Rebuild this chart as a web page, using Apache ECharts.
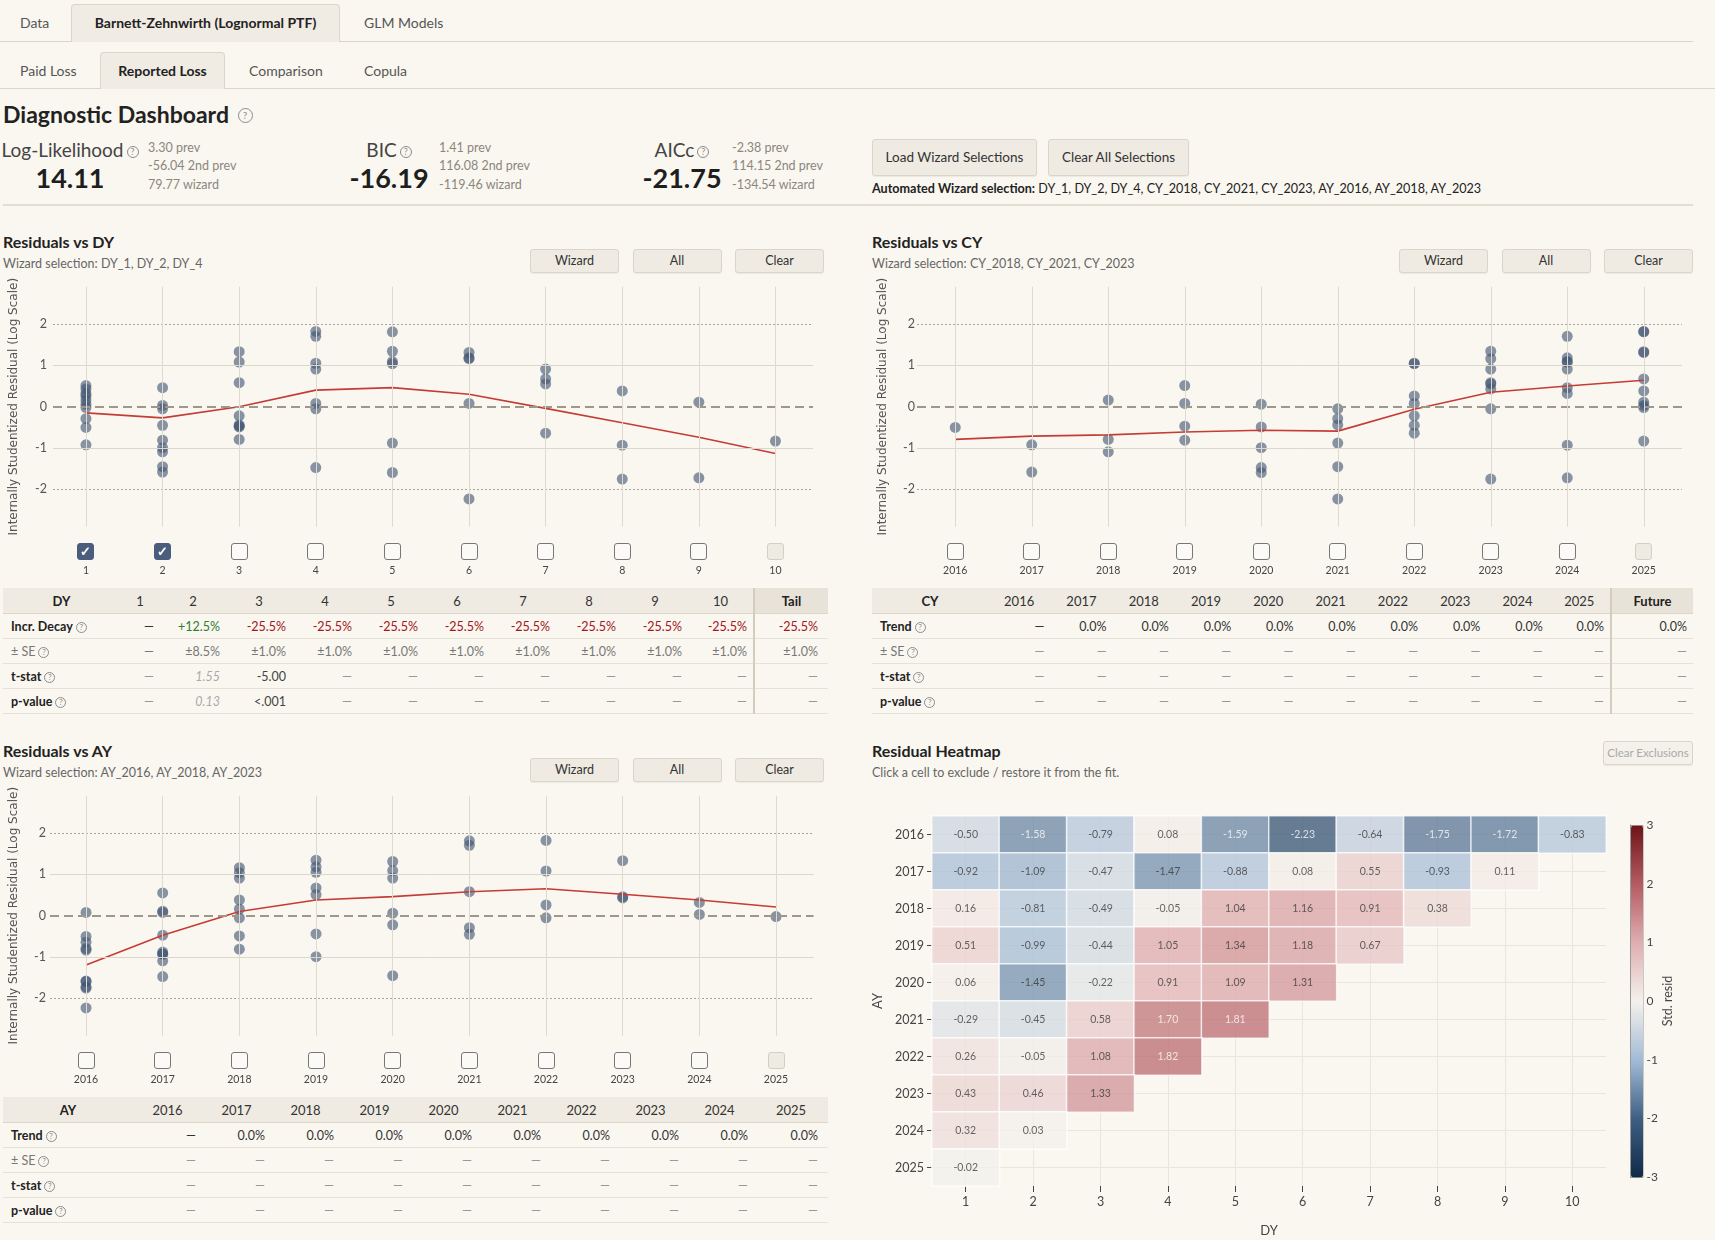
<!DOCTYPE html>
<html>
<head>
<meta charset="utf-8">
<script src="https://cdn.jsdelivr.net/npm/echarts@6/dist/echarts.min.js"></script>
<style>
  html,body{margin:0;padding:0;background:#faf7f0;}
  body{width:1715px;height:1240px;position:relative;overflow:hidden;font-family:Lato,"Noto Sans",sans-serif;color:#2a2a2a;}
  .a{position:absolute;white-space:nowrap;}
  .tab{font-size:14px;color:#555;line-height:18px;}
  .tabon{background:#f0ece3;border:1px solid #dcd6ca;border-bottom:none;border-radius:4px 4px 0 0;box-sizing:border-box;text-align:center;font-weight:bold;color:#222;font-size:14px;}
  .btn{background:#efebe3;border:1px solid #dbd6cb;border-radius:3px;box-sizing:border-box;text-align:center;color:#333;box-shadow:0 1px 1px rgba(0,0,0,0.06);}
  .q{display:inline-block;box-sizing:border-box;border:1px solid #8c8c8c;border-radius:50%;color:#8c8c8c;text-align:center;font-weight:normal;vertical-align:middle;}
  .side{font-size:12.5px;color:#8b867e;line-height:18.3px;}
  .ptitle{font-size:16px;font-weight:bold;color:#222;line-height:20px;}
  .psub{font-size:12.5px;color:#666;line-height:16px;}
  table.t{position:absolute;border-collapse:collapse;table-layout:fixed;font-size:12.5px;}
  table.t th{height:25px;padding:0;background:#efebe2;font-weight:normal;color:#333;text-align:center;font-size:13px;border-bottom:1px solid #ddd7cb;}
  table.t th.b{font-weight:bold;color:#222;}
  table.t td{height:24px;padding:0 6px 0 0;text-align:right;border-bottom:1px solid #e7e2d7;color:#999;}
  table.t td.lab{text-align:left;padding-left:8px;font-weight:bold;color:#222;}
  table.t td.labn{text-align:left;padding-left:8px;color:#777;}
  table.t .sep{border-left:2px solid #d3cdc0;}
  table.t th.sep{background:#e8e3d8;}
  .cb{position:absolute;width:17px;height:17px;box-sizing:border-box;border:1.5px solid #777;border-radius:3px;background:#fbfaf6;}
  .cb.on{background:#4b5d7c;border-color:#4b5d7c;color:#fff;font-size:13px;line-height:15px;text-align:center;font-weight:bold;}
  .cb.dis{background:#eeebe3;border-color:#d3cfc5;}
  .cbl{position:absolute;font-size:10.5px;color:#444;text-align:center;width:40px;line-height:12px;}
</style>
</head>
<body>
<!-- top tabs -->
<div class="a" style="left:0;top:41px;width:1693px;height:1px;background:#dcd6ca"></div>
<div class="a tab" style="left:20px;top:14px">Data</div>
<div class="a tabon" style="left:71px;top:4px;width:269px;height:38px;line-height:36px">Barnett-Zehnwirth (Lognormal PTF)</div>
<div class="a tab" style="left:364px;top:14px">GLM Models</div>

<div class="a" style="left:0;top:88px;width:1715px;height:1px;background:#dcd6ca"></div>
<div class="a tab" style="left:20px;top:62px">Paid Loss</div>
<div class="a tabon" style="left:100px;top:52px;width:125px;height:37px;line-height:36px">Reported Loss</div>
<div class="a tab" style="left:249px;top:62px">Comparison</div>
<div class="a tab" style="left:364px;top:62px">Copula</div>

<div class="a" style="left:3px;top:100px;font-size:23px;font-weight:bold;line-height:28px;color:#222">Diagnostic Dashboard <span class="q" style="width:15px;height:15px;font-size:10px;line-height:13px;margin-left:3px;margin-top:-3px">?</span></div>

<div id="metrics"></div>

<div class="a btn" style="left:872px;top:139px;width:165px;height:37px;line-height:35px;font-size:13.5px">Load Wizard Selections</div>
<div class="a btn" style="left:1048px;top:139px;width:141px;height:37px;line-height:35px;font-size:13.5px">Clear All Selections</div>
<div class="a" id="autoSel" style="left:872px;top:181px;font-size:12.6px;line-height:16px;color:#222"></div>

<div class="a" style="left:3px;top:204px;width:1690px;height:2px;background:#e2ddd2"></div>

<div id="panels"></div>

<div class="a" id="chDY" style="left:0;top:270px;width:830px;height:280px"></div>
<div class="a" id="chCY" style="left:860px;top:270px;width:855px;height:280px"></div>
<div class="a" id="chAY" style="left:0;top:779px;width:830px;height:280px"></div>
<div class="a" id="chHM" style="left:860px;top:790px;width:855px;height:450px"></div>

<script>
// ---------------- DATA ----------------
const AY_LABELS = ['2016','2017','2018','2019','2020','2021','2022','2023','2024','2025'];
const DY_LABELS = ['1','2','3','4','5','6','7','8','9','10'];
const CY_LABELS = ['2016','2017','2018','2019','2020','2021','2022','2023','2024','2025'];
// Standardized residuals by accident-year row (development years 1..n)
const RESID_2016 = [-0.50,-1.58,-0.79,0.08,-1.59,-2.23,-0.64,-1.75,-1.72,-0.83];
const RESID_2017 = [-0.92,-1.09,-0.47,-1.47,-0.88,0.08,0.55,-0.93,0.11];
const RESID_2018 = [0.16,-0.81,-0.49,-0.05,1.04,1.16,0.91,0.38];
const RESID_2019 = [0.51,-0.99,-0.44,1.05,1.34,1.18,0.67];
const RESID_2020 = [0.06,-1.45,-0.22,0.91,1.09,1.31];
const RESID_2021 = [-0.29,-0.45,0.58,1.70,1.81];
const RESID_2022 = [0.26,-0.05,1.08,1.82];
const RESID_2023 = [0.43,0.46,1.33];
const RESID_2024 = [0.32,0.03];
const RESID_2025 = [-0.02];
const RESID_ROWS = [RESID_2016,RESID_2017,RESID_2018,RESID_2019,RESID_2020,RESID_2021,RESID_2022,RESID_2023,RESID_2024,RESID_2025];
// Trend (red) lines
const DY_TREND = [-0.15,-0.27,0.00,0.40,0.46,0.30,-0.04,-0.39,-0.74,-1.13];
const CY_TREND = [-0.79,-0.71,-0.68,-0.61,-0.57,-0.59,-0.06,0.35,0.50,0.64];
const AY_TREND = [-1.19,-0.47,0.10,0.38,0.46,0.58,0.65,0.52,0.38,0.21];
const REF_LEVELS = [-2,-1,0,1,2];
// Checkbox states
const DY_CHECKED = [true,true,false,false,false,false,false,false,false,false];
// Metrics
const METRICS = [
  {name:'Log-Likelihood', value:'14.11', side:['3.30 prev','-56.04 2nd prev','79.77 wizard']},
  {name:'BIC', value:'-16.19', side:['1.41 prev','116.08 2nd prev','-119.46 wizard']},
  {name:'AICc', value:'-21.75', side:['-2.38 prev','114.15 2nd prev','-134.54 wizard']}
];
const AUTO_SEL = 'DY_1, DY_2, DY_4, CY_2018, CY_2021, CY_2023, AY_2016, AY_2018, AY_2023';
// Tables
const DY_TABLE_HDR = ['1','2','3','4','5','6','7','8','9','10','Tail'];
const DY_INCR = ['—','+12.5%','-25.5%','-25.5%','-25.5%','-25.5%','-25.5%','-25.5%','-25.5%','-25.5%','-25.5%'];
const DY_SE = ['—','±8.5%','±1.0%','±1.0%','±1.0%','±1.0%','±1.0%','±1.0%','±1.0%','±1.0%','±1.0%'];
const DY_TSTAT = ['—','1.55','-5.00','—','—','—','—','—','—','—','—'];
const DY_PVAL = ['—','0.13','<.001','—','—','—','—','—','—','—','—'];
const CY_TABLE_HDR = ['2016','2017','2018','2019','2020','2021','2022','2023','2024','2025','Future'];
const CY_TREND_ROW = ['—','0.0%','0.0%','0.0%','0.0%','0.0%','0.0%','0.0%','0.0%','0.0%','0.0%'];
const AY_TABLE_HDR = ['2016','2017','2018','2019','2020','2021','2022','2023','2024','2025'];
const AY_TREND_ROW = ['—','0.0%','0.0%','0.0%','0.0%','0.0%','0.0%','0.0%','0.0%','0.0%'];

// ---------------- HTML parts ----------------
function q(sz){ sz=sz||11; return '<span class="q" style="width:'+sz+'px;height:'+sz+'px;font-size:'+(sz-3)+'px;line-height:'+(sz-2)+'px;margin-left:3px">?</span>'; }
(function(){
  const pos = [{l:0,s:148},{l:319,s:439},{l:612,s:732}];
  let h='';
  METRICS.forEach((m,i)=>{
    h+='<div class="a" style="left:'+pos[i].l+'px;top:138px;width:140px;text-align:center;font-size:19px;line-height:23px;color:#444">'+m.name+q(12)+'</div>';
    h+='<div class="a" style="left:'+pos[i].l+'px;top:161px;width:140px;text-align:center;font-size:27px;font-weight:bold;line-height:34px;color:#1e1e1e">'+m.value+'</div>';
    h+='<div class="a side" style="left:'+pos[i].s+'px;top:139px">'+m.side.join('<br>')+'</div>';
  });
  document.getElementById('metrics').innerHTML=h;
  document.getElementById('autoSel').innerHTML='<b>Automated Wizard selection:</b> '+AUTO_SEL;
})();

function panelHeader(x, y, title, sub, btnX){
  let h='<div class="a ptitle" style="left:'+x+'px;top:'+(y-10)+'px">'+title+'</div>';
  if(sub) h+='<div class="a psub" style="left:'+x+'px;top:'+(y+14)+'px">'+sub+'</div>';
  if(btnX){
    ['Wizard','All','Clear'].forEach((b,i)=>{
      h+='<div class="a btn" style="left:'+(btnX+i*102.5)+'px;top:'+(y+7)+'px;width:89px;height:24px;line-height:22px;font-size:12.5px">'+b+'</div>';
    });
  }
  return h;
}
function cell(v, cls, style){ return '<td'+(cls?' class="'+cls+'"':'')+(style?' style="'+style+'"':'')+'>'+v+'</td>'; }
function dash(){ return '—'; }

function buildTables(){
  let h='';
  h+=panelHeader(3,242,'Residuals vs DY','Wizard selection: DY_1, DY_2, DY_4',530);
  h+=panelHeader(872,242,'Residuals vs CY','Wizard selection: CY_2018, CY_2021, CY_2023',1399);
  h+=panelHeader(3,751,'Residuals vs AY','Wizard selection: AY_2016, AY_2018, AY_2023',530);
  h+=panelHeader(872,751,'Residual Heatmap','Click a cell to exclude / restore it from the fit.',0);
  h+='<div class="a btn" style="left:1603px;top:741px;width:90px;height:24px;line-height:22px;font-size:11.5px;color:#aaa;background:#f4f1ea">Clear Exclusions</div>';

  // DY table
  let t='<table class="t" style="left:3px;top:588px;width:825px"><colgroup><col style="width:117px"><col style="width:40px">';
  for(let i=0;i<9;i++) t+='<col style="width:66px">';
  t+='<col style="width:74px"></colgroup><tr><th class="b">DY</th>';
  DY_TABLE_HDR.forEach((c,i)=>{ t+='<th class="'+(i==10?'b sep':'')+'">'+c+'</th>'; });
  t+='</tr><tr><td class="lab">Incr. Decay'+q()+'</td>';
  DY_INCR.forEach((v,i)=>{
    let col = v==='—'?'#333':(v.charAt(0)==='+'?'#2e7d32':'#a3151b');
    t+=cell(v, i==10?'sep':'', 'color:'+col+(i==10?';padding-right:10px':''));
  });
  t+='</tr><tr><td class="labn">± SE'+q()+'</td>';
  DY_SE.forEach((v,i)=>{ t+=cell(v, i==10?'sep':'', 'color:#777'+(i==10?';padding-right:10px':'')); });
  t+='</tr><tr><td class="lab">t-stat'+q()+'</td>';
  DY_TSTAT.forEach((v,i)=>{ let st = i==1?'color:#aaa;font-style:italic':(i==2?'color:#444':'color:#999'); t+=cell(v, i==10?'sep':'', st+(i==10?';padding-right:10px':'')); });
  t+='</tr><tr><td class="lab">p-value'+q()+'</td>';
  DY_PVAL.forEach((v,i)=>{ let st = i==1?'color:#aaa;font-style:italic':(i==2?'color:#444':'color:#999'); t+=cell(v, i==10?'sep':'', st+(i==10?';padding-right:10px':'')); });
  t+='</tr></table>';
  h+=t;

  // CY table
  t='<table class="t" style="left:872px;top:588px;width:821px"><colgroup><col style="width:116px">';
  for(let i=0;i<10;i++) t+='<col style="width:62.3px">';
  t+='<col style="width:82px"></colgroup><tr><th class="b">CY</th>';
  CY_TABLE_HDR.forEach((c,i)=>{ t+='<th class="'+(i==10?'b sep':'')+'">'+c+'</th>'; });
  t+='</tr><tr><td class="lab">Trend'+q()+'</td>';
  CY_TREND_ROW.forEach((v,i)=>{ t+=cell(v, i==10?'sep':'', 'color:#333'); });
  ['± SE','t-stat','p-value'].forEach((r,ri)=>{
    t+='</tr><tr><td class="'+(ri==0?'labn':'lab')+'">'+r+q()+'</td>';
    CY_TABLE_HDR.forEach((c,i)=>{ t+=cell(dash(), i==10?'sep':'', ''); });
  });
  t+='</tr></table>';
  h+=t;

  // AY table
  t='<table class="t" style="left:3px;top:1097px;width:825px"><colgroup><col style="width:130px">';
  for(let i=0;i<9;i++) t+='<col style="width:69px">';
  t+='<col style="width:74px"></colgroup><tr><th class="b">AY</th>';
  AY_TABLE_HDR.forEach((c,i)=>{ t+='<th>'+c+'</th>'; });
  t+='</tr><tr><td class="lab">Trend'+q()+'</td>';
  AY_TREND_ROW.forEach((v,i)=>{ t+=cell(v,'', 'color:#333'+(i==9?';padding-right:10px':'')); });
  ['± SE','t-stat','p-value'].forEach((r,ri)=>{
    t+='</tr><tr><td class="'+(ri==0?'labn':'lab')+'">'+r+q()+'</td>';
    AY_TABLE_HDR.forEach((c,i)=>{ t+=cell(dash(),'', i==9?'padding-right:10px':''); });
  });
  t+='</tr></table>';
  h+=t;
  document.getElementById('panels').innerHTML=h;
}
buildTables();

// ---------------- residual points ----------------
const PTS_DY=[], PTS_CY=[], PTS_AY=[], HEAT=[];
RESID_ROWS.forEach((row,ai)=>{
  row.forEach((v,di)=>{
    PTS_DY.push([di+1, v]);
    PTS_AY.push([+AY_LABELS[ai], v]);
    PTS_CY.push([+AY_LABELS[ai]+di, v]);
    HEAT.push({value:[di, ai, v], label:{color: Math.abs(v)>=1.5 ? '#ffffff' : '#333333'}});
  });
});

const FONT = 'Lato, "Noto Sans", sans-serif';
function residOption(xs, pts, trend, xmin, xmax, gl, gw, labMargin, nameGap){
  const refStyle = v => v===0 ? {color:'#9d978c', width:2, type:[9,5]}
                    : (Math.abs(v)===2 ? {color:'#aaa59b', width:1, type:[2,2]} : {color:'#dcd7cc', width:1, type:'solid'});
  const marks = REF_LEVELS.map(v=>({yAxis:v, lineStyle:refStyle(v)}))
    .concat(xs.map(x=>({xAxis:x, lineStyle:{color:'#dedad0', width:1, type:'solid'}})));
  return {
    animation:false,
    textStyle:{fontFamily:FONT},
    grid:{left:gl, top:16.7, width:gw, height:240, containLabel:false, outerBoundsMode:'none'},
    xAxis:{type:'value', min:xmin, max:xmax, show:false},
    yAxis:{type:'value', min:-2.9, max:2.9, splitNumber:5,
      axisLine:{show:false}, axisTick:{show:false}, splitLine:{show:false},
      axisLabel:{fontSize:12.5, color:'#555', margin:labMargin, fontFamily:FONT,
        formatter:v=> (Math.abs(v-Math.round(v))<1e-9) ? String(Math.round(v)) : ''},
      name:'Internally Studentized Residual (Log Scale)', nameLocation:'middle', nameGap:nameGap,
      nameTextStyle:{fontSize:12, color:'#555', fontFamily:'"DejaVu Sans", sans-serif'}},
    series:[
      {type:'line', data:[], z:1, silent:true,
        markLine:{silent:true, symbol:['none','none'], label:{show:false}, animation:false, data:marks}},
      {type:'scatter', data:pts, symbolSize:11, z:3,
        itemStyle:{color:'rgba(66,86,116,0.78)'}},
      {type:'line', data:xs.map((x,i)=>[x, trend[i]]), z:4, showSymbol:false, symbol:'none',
        lineStyle:{color:'#c43c35', width:1.6}}
    ]
  };
}

function placeChecks(chart, chartLeft, chartTop, xs, labels, checked, cbTop){
  xs.forEach((x,i)=>{
    const p = chart.convertToPixel({gridIndex:0}, [x, 0]);
    const cx = chartLeft + p[0];
    const d = document.createElement('div');
    const last = i===xs.length-1;
    d.className = 'cb' + (checked && checked[i] ? ' on' : '') + (last ? ' dis' : '');
    d.style.left = (cx-8.5)+'px'; d.style.top = cbTop+'px';
    if(checked && checked[i]) d.textContent = '✓';
    document.body.appendChild(d);
    const l = document.createElement('div');
    l.className='cbl'; l.textContent = labels[i];
    l.style.left = (cx-20)+'px'; l.style.top = (cbTop+21)+'px';
    document.body.appendChild(l);
  });
}

const xsDY = DY_LABELS.map(Number), xsCY = CY_LABELS.map(Number), xsAY = AY_LABELS.map(Number);
const cDY = echarts.init(document.getElementById('chDY'), null, {renderer:'canvas'});
cDY.setOption(residOption(xsDY, PTS_DY, DY_TREND, 0.57, 10.49, 53, 760, 6, 33));
const cCY = echarts.init(document.getElementById('chCY'));
cCY.setOption(residOption(xsCY, PTS_CY, CY_TREND, 2015.5, 2025.5, 57, 765, 2, 28));
const cAY = echarts.init(document.getElementById('chAY'));
cAY.setOption(residOption(xsAY, PTS_AY, AY_TREND, 2015.53, 2025.49, 50, 763.6, 4, 30));

placeChecks(cDY, 0, 270, xsDY, DY_LABELS, DY_CHECKED, 543);
placeChecks(cCY, 860, 270, xsCY, CY_LABELS, null, 543);
placeChecks(cAY, 0, 779, xsAY, AY_LABELS, null, 1052);

// ---------------- heatmap ----------------
const HEAT_COLORS = ['#0f2a47','#3f5f82','#a3bbd6','#f4f1ec','#dfaeb1','#b35c62','#6e1417'];
const cHM = echarts.init(document.getElementById('chHM'));
cHM.setOption({
  animation:false,
  textStyle:{fontFamily:FONT},
  grid:[{left:72, top:26, width:674, height:370, outerBoundsMode:'none'},
        {left:770.5, top:35, width:12, height:352, outerBoundsMode:'none'}],
  xAxis:[{type:'category', data:DY_LABELS, gridIndex:0,
          axisLine:{show:false}, axisTick:{show:true, alignWithLabel:true, length:6, lineStyle:{color:'#444'}},
          splitLine:{show:true, alignWithLabel:true, lineStyle:{color:'#ebe6dc'}},
          axisLabel:{fontSize:12.5, color:'#444', margin:9},
          name:'DY', nameLocation:'middle', nameGap:38, nameTextStyle:{fontSize:13, color:'#444'}},
         {type:'value', gridIndex:1, show:false, min:0, max:1}],
  yAxis:[{type:'category', data:AY_LABELS, inverse:true, gridIndex:0,
          axisLine:{show:false}, axisTick:{show:true, alignWithLabel:true, length:5, lineStyle:{color:'#444'}},
          splitLine:{show:true, alignWithLabel:true, lineStyle:{color:'#ebe6dc'}},
          axisLabel:{fontSize:12.5, color:'#444', margin:8},
          name:'AY', nameLocation:'middle', nameGap:35, nameRotate:90, nameTextStyle:{fontSize:13, color:'#444'}},
         {type:'value', gridIndex:1, min:-3, max:3, interval:1, position:'right',
          axisLine:{show:true, lineStyle:{color:'#999'}}, axisTick:{show:true, length:3, lineStyle:{color:'#777'}},
          splitLine:{show:false}, axisLabel:{fontSize:12, color:'#444', margin:4},
          name:'Std. resid', nameLocation:'middle', nameRotate:90, nameGap:14,
          nameTextStyle:{fontSize:12.5, color:'#444'}}],
  visualMap:{type:'continuous', min:-3, max:3, seriesIndex:0, calculable:false, show:true,
    left:770.5, top:35, itemWidth:12, itemHeight:352, padding:0, text:null,
    borderColor:'#9a9a9a', borderWidth:1, inRange:{color:HEAT_COLORS}},
  series:[{type:'heatmap', xAxisIndex:0, yAxisIndex:0, data:HEAT,
    itemStyle:{borderColor:'#ffffff', borderWidth:1.5, opacity:0.75},
    label:{show:true, fontSize:10.5, formatter:p=>p.value[2].toFixed(2)},
    emphasis:{disabled:true}}]
});
</script>
</body>
</html>
